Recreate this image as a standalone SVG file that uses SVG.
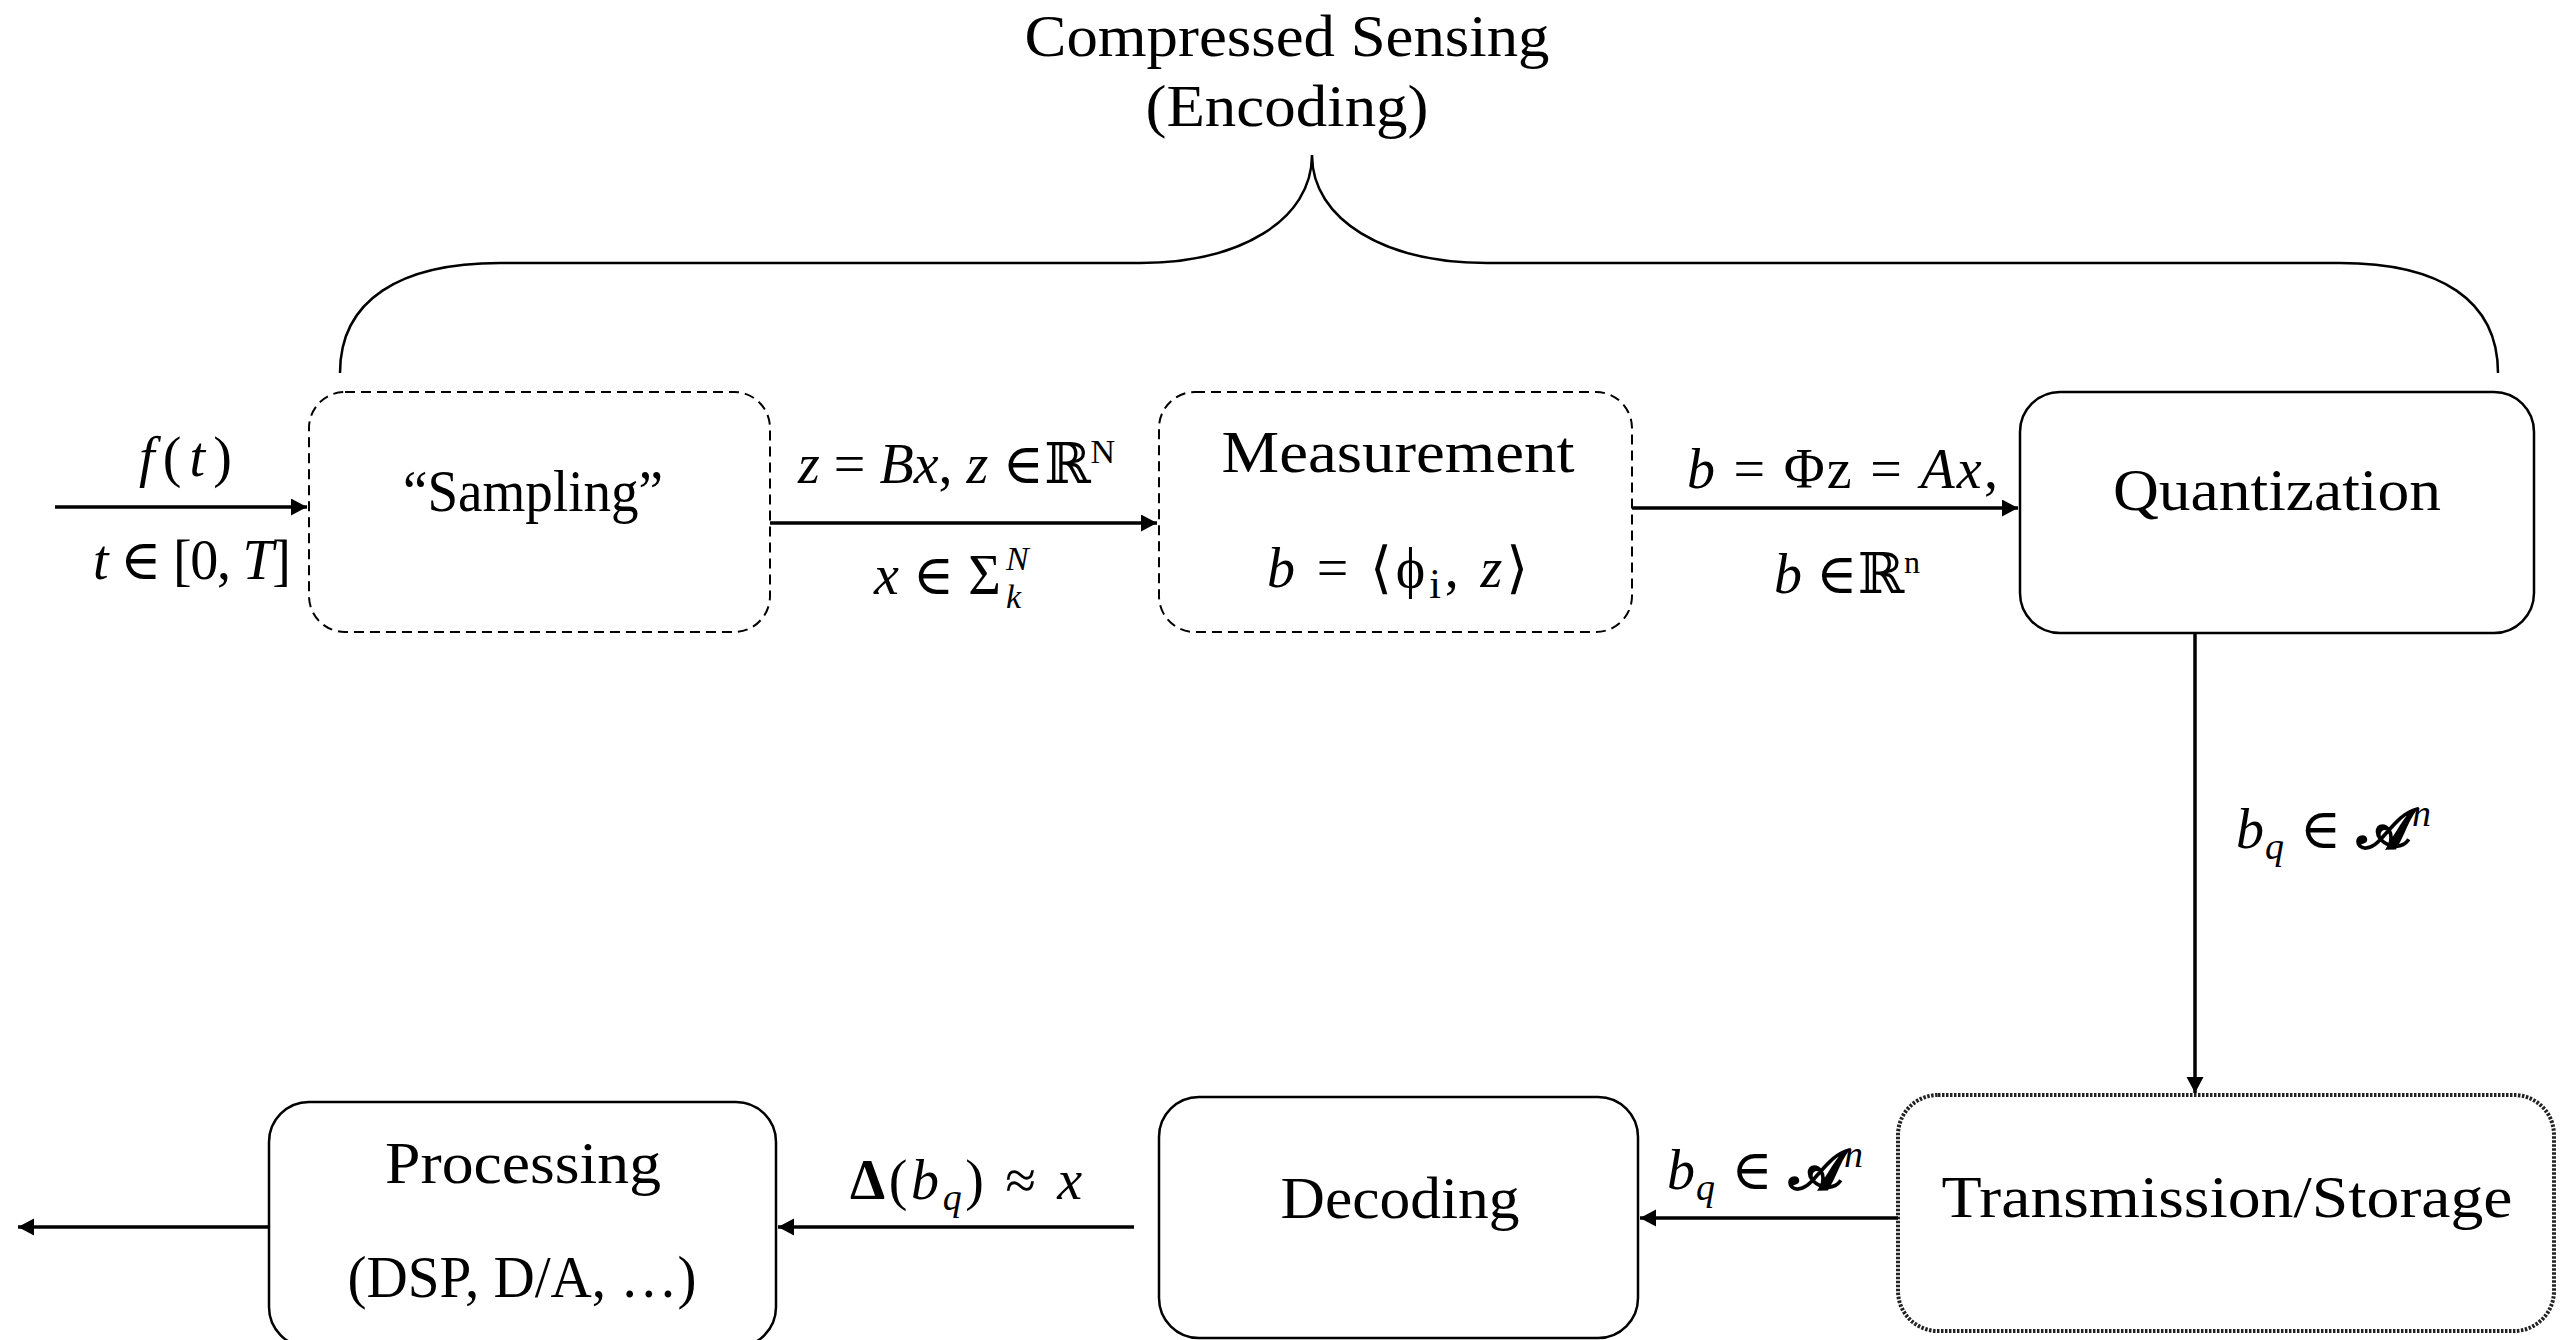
<svg xmlns="http://www.w3.org/2000/svg" width="2563" height="1340" viewBox="0 0 2563 1340">
<style>
.lbl{font-family:"Liberation Serif","Times New Roman",serif;font-size:60px;fill:#000;text-anchor:middle}
.m{font-family:"Liberation Serif","DejaVu Serif",serif;font-size:56px;fill:#000}
.i{font-style:italic}
.box{fill:#fff;stroke:#000;stroke-width:2.5}
.dash{fill:#fff;stroke:#000;stroke-width:2;stroke-dasharray:10 6}
.dot{fill:#fff;stroke:#222;stroke-width:4;stroke-dasharray:2.5 1.5}
.conn{stroke:#000;stroke-width:3.5;fill:none}
</style>
<defs>
<marker id="ah" markerUnits="userSpaceOnUse" markerWidth="18" markerHeight="18" refX="16" refY="8.5" orient="auto">
<path d="M0,0 L16,8.5 L0,17 z" fill="#000"/>
</marker>
</defs>

<g id="brace">
<text class="lbl" x="1287" y="56" font-size="58" textLength="525" lengthAdjust="spacingAndGlyphs">Compressed Sensing</text>
<text class="lbl" x="1287" y="126" font-size="58" textLength="283" lengthAdjust="spacingAndGlyphs">(Encoding)</text>
<path d="M340,373 C340,300 400,263 500,263 L1140,263 C1240,263 1312,220 1312,155 C1312,220 1385,263 1487,263 L2340,263 C2440,263 2498,300 2498,373" fill="none" stroke="#000" stroke-width="2.5"/>
</g>

<g id="sampling">
<rect class="dash" x="309" y="392" width="461" height="240" rx="36"/>
<text class="lbl" x="533" y="511" textLength="260" lengthAdjust="spacingAndGlyphs">“Sampling”</text>
</g>

<g id="measurement">
<rect class="dash" x="1159" y="392" width="473" height="240" rx="36"/>
<text class="lbl" x="1398" y="472" textLength="353" lengthAdjust="spacingAndGlyphs">Measurement</text>
<text class="m" x="1267" y="587" font-size="66" textLength="261"><tspan class="i">b</tspan> = ⟨ϕ<tspan font-size="42" dy="11">i</tspan><tspan dy="-11">, </tspan><tspan class="i">z</tspan>⟩</text>
</g>

<g id="quantization">
<rect class="box" x="2020" y="392" width="514" height="241" rx="40"/>
<text class="lbl" x="2277" y="510" textLength="328" lengthAdjust="spacingAndGlyphs">Quantization</text>
</g>

<g id="transmission">
<rect class="dot" x="1898" y="1095" width="656" height="236" rx="40"/>
<text class="lbl" x="2227" y="1217" textLength="571" lengthAdjust="spacingAndGlyphs">Transmission/Storage</text>
</g>

<g id="decoding">
<rect class="box" x="1159" y="1097" width="479" height="241" rx="40"/>
<text class="lbl" x="1400" y="1218" textLength="239" lengthAdjust="spacingAndGlyphs">Decoding</text>
</g>

<g id="processing">
<rect class="box" x="269" y="1102" width="507" height="245" rx="40"/>
<text class="lbl" x="523" y="1183" textLength="276" lengthAdjust="spacingAndGlyphs">Processing</text>
<text class="lbl" x="522" y="1297" textLength="349" lengthAdjust="spacingAndGlyphs">(DSP, D/A, …)</text>
</g>

<g id="connectors">
<line class="conn" x1="55" y1="507" x2="307" y2="507" marker-end="url(#ah)"/>
<line class="conn" x1="770" y1="523" x2="1157" y2="523" marker-end="url(#ah)"/>
<line class="conn" x1="1632" y1="508" x2="2018" y2="508" marker-end="url(#ah)"/>
<line class="conn" x1="2195" y1="633" x2="2195" y2="1093" marker-end="url(#ah)"/>
<line class="conn" x1="1898" y1="1218" x2="1640" y2="1218" marker-end="url(#ah)"/>
<line class="conn" x1="1134" y1="1227" x2="778" y2="1227" marker-end="url(#ah)"/>
<line class="conn" x1="269" y1="1227" x2="18" y2="1227" marker-end="url(#ah)"/>
</g>

<g id="labels">
<text class="m" x="139" y="476" font-size="58" textLength="93"><tspan class="i">f</tspan>(<tspan class="i">t</tspan>)</text>
<text class="m" x="93" y="579" textLength="198"><tspan class="i">t</tspan> ∈ [0, <tspan class="i">T</tspan>]</text>
<text class="m" x="798" y="483" textLength="317"><tspan class="i">z</tspan> = <tspan class="i">Bx</tspan>, <tspan class="i">z</tspan> ∈ℝ<tspan font-size="34" dy="-20">N</tspan></text>
<text class="m" x="874" y="594" font-size="50"><tspan class="i">x</tspan> ∈ Σ<tspan class="i" font-size="34" x="1006" y="570">N</tspan><tspan class="i" font-size="34" x="1006" y="608">k</tspan></text>
<text class="m" x="1687" y="488" textLength="311"><tspan class="i">b</tspan> = Φz = <tspan class="i">Ax</tspan>,</text>
<text class="m" x="1774" y="593" font-size="52"><tspan class="i">b</tspan> ∈ℝ<tspan font-size="32" dy="-20">n</tspan></text>
<text class="m" x="2236" y="848" textLength="195"><tspan class="i">b</tspan><tspan class="i" font-size="38" dy="11">q</tspan><tspan dy="-11"> ∈ </tspan><tspan font-weight="bold">𝓐</tspan><tspan class="i" font-size="38" dy="-22">n</tspan></text>
<text class="m" x="1667" y="1189" textLength="196"><tspan class="i">b</tspan><tspan class="i" font-size="38" dy="11">q</tspan><tspan dy="-11"> ∈ </tspan><tspan font-weight="bold">𝓐</tspan><tspan class="i" font-size="38" dy="-22">n</tspan></text>
<text class="m" x="850" y="1199" textLength="232"><tspan font-weight="bold">Δ</tspan>(<tspan class="i">b</tspan><tspan class="i" font-size="38" dy="11">q</tspan><tspan dy="-11">) ≈ </tspan><tspan class="i">x</tspan></text>
</g>
</svg>
